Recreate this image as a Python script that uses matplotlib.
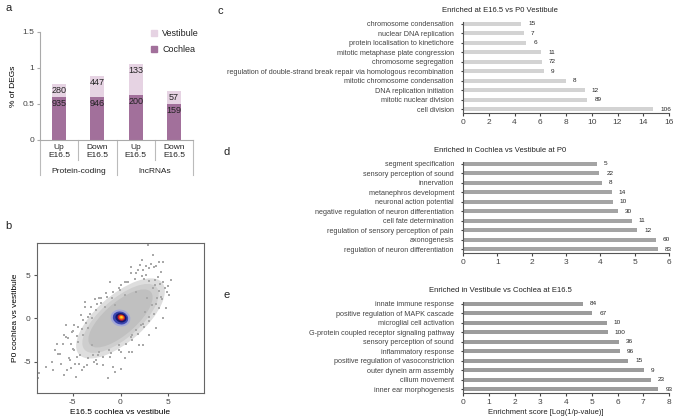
import numpy as np
import matplotlib
matplotlib.use('Agg')
import matplotlib.pyplot as plt
from matplotlib.patches import Ellipse, Patch

plt.rcParams['font.family'] = ['Liberation Sans', 'DejaVu Sans']
plt.rcParams['text.color'] = '#222222'
plt.rcParams['xtick.color'] = '#444444'
plt.rcParams['ytick.color'] = '#444444'
plt.rcParams['axes.unicode_minus'] = False

W, H = 675, 418

# ---- panel a: % of DEGs
deg_groups = ['Protein-coding', 'lncRNAs']
deg_labels = ['Up\nE16.5', 'Down\nE16.5', 'Up\nE16.5', 'Down\nE16.5']
cochlea_pct = [0.60, 0.60, 0.63, 0.50]
vestibule_pct = [0.18, 0.29, 0.42, 0.18]
cochlea_n = [935, 946, 200, 159]
vestibule_n = [280, 447, 133, 57]

# ---- panel b: fold changes (hand-read sparse points + dense cloud outline)
scatter_x = [2.85, 3.98, 3.5, 3.0, 2.3, 1.6, 2.7, 3.9, 4.4, 4.2, 0.5, -0.2, -1.1, -2.0, -2.5,
             -3.75, -4.1, -4.8, -5.7, -5.9, -6.6, -6.8, -6.3, -7.1, -7.8, -8.5, -8.6, -7.0, -5.9,
             -5.2, -4.7, -4.0, -3.5, -2.8, -1.8, -0.75, -0.6, -1.3, 0.5, 1.2, 2.3, 3.0, 3.7, 4.4,
             4.75, 5.1, 4.6, 3.4, 2.2, 1.1, -3.0, -3.4, -3.9, -4.4, -5.0, -3.0, -2.3, -1.25, -0.2,
             1.2, 2.1, 2.6, 2.8, 1.6, 0.5, -0.9, -1.6, -0.6, 3.4, 3.8, 3.3, -6.2, -5.6, -5.3, -4.6,
             -4.3, -3.8, -2.5, 0.0, -2.2, -5.1, -5.65, -6.0, -4.4, -3.9, -3.4, -3.1, -2.2, -1.5,
             -0.1, 0.6, 1.1, 1.8, 2.7, 3.2, 3.7, 4.4, 4.9, 3.7, 4.2, 3.0, 2.3, 1.6, 1.1, 0.07, -1.1,
             -2.9, -6.5, 4.1, 3.6, 2.5, -4.5, -5.4,
             -4.5, -4.0, -3.6, -3.2, -2.6, -2.0, -1.4, -0.8, 0.0, 0.8, 1.5, 2.2, 3.0, 3.6, 4.0,
             4.3, 4.0, 3.5, 3.0, 2.4, 1.8, 1.2, 0.6, -0.2, -1.0, -1.8, -2.6, -3.4, -4.2, -4.8,
             -5.2, -5.5, -4.9, -2.7, 1.9, 0.9, -3.7, 4.8, 5.3, 2.0]
scatter_y = [8.46, 6.54, 5.96, 5.8, 5.6, 5.2, 5.0, 4.8, 4.2, 5.4, 4.2, 3.5, 4.2, 2.3, 1.7,
             1.3, 0.4, -0.77, -0.77, -1.93, -2.9, -3.66, -4.05, -5.0, -5.6, -6.35, -6.9, -5.97, -6.5,
             -5.7, -5.2, -5.97, -5.4, -5.0, -5.4, -5.6, -6.2, -6.9, -4.6, -3.85, -3.08, -1.93, -1.16, 0.0,
             1.16, 2.7, 3.5, 7.3, 6.7, 5.96, 0.0, -1.16, -1.93, -2.7, -3.47, -3.08, -4.24, -3.66, -3.08,
             -1.93, -0.77, 0.77, 2.3, 3.08, 2.7, 2.3, 1.35, 1.5, 3.5, 2.3, 1.6, -5.2, -5.9, -4.8, -6.7,
             -5.2, -5.6, -5.2, -5.8, -3.9, -1.55, -2.1, -2.9, -0.97, -0.2, 0.2, 1.3, 2.3, 2.9,
             3.3, 4.2, 5.2, 5.6, 6.1, 6.3, 6.1, 6.5, 3.7, 1.7, 2.5, 0.2, -0.6, -1.35, -2.1, -3.85, -4.4,
             -4.2, -4.05, 4.0, 4.4, 4.6, -4.4, -4.6,
             -2.0, -1.2, -0.5, 0.5, 1.0, 1.8, 2.5, 3.0, 3.8, 4.2, 4.6, 4.9, 4.3, 3.9, 3.2,
             2.2, 1.2, 0.5, -0.3, -1.0, -1.8, -2.5, -3.0, -3.6, -4.0, -4.4, -4.8, -4.6, -4.2, -3.6,
             -3.0, -2.3, -1.4, 2.2, -3.1, -3.9, 1.9, 3.0, 4.4, 6.2]
cloud_w = [12.0, 10.4, 8.8]
cloud_h = [5.2, 4.3, 3.5]
cloud_colors = ['#dedede', '#cecece', '#c0c0c0']
cloud_angle = 45
core_xy = [(0.0, 0.05), (0.0, 0.05), (0.05, 0.08), (0.08, 0.1), (0.1, 0.12), (0.1, 0.15)]
core_w = [1.9, 1.45, 1.05, 0.7, 0.48, 0.26]
core_h = [2.1, 1.65, 1.2, 0.8, 0.52, 0.28]
core_colors = ['#a3a8d8', '#3a46b0', '#15176a', '#c81e2a', '#f4781c', '#ffd51e']

# ---- panels c-e: GO enrichment
c_terms = ['chromosome condensation', 'nuclear DNA replication', 'protein localisation to kinetichore',
           'mitotic metaphase plate congression', 'chromosome segregation',
           'regulation of double-strand break repair via homologous recombination',
           'mitotic chromosome condensation', 'DNA replication initiation', 'mitotic nuclear division',
           'cell division']
c_scores = [4.53, 4.74, 4.92, 6.09, 6.14, 6.30, 7.98, 9.46, 9.66, 14.77]
c_counts = [15, 7, 6, 11, 72, 9, 8, 12, 89, 106]

d_terms = ['segment specification', 'sensory perception of sound', 'innervation',
           'metanephros development', 'neuronal action potential',
           'negative regulation of neuron differentiation', 'cell fate determination',
           'regulation of sensory perception of pain', 'axonogenesis',
           'regulation of neuron differentiation']
d_scores = [3.91, 3.97, 4.04, 4.34, 4.36, 4.50, 4.91, 5.08, 5.62, 5.67]
d_counts = [5, 22, 8, 14, 10, 30, 11, 12, 60, 83]

e_terms = ['innate immune response', 'positive regulation of MAPK cascade', 'microglial cell activation',
           'G-protein coupled receptor signaling pathway', 'sensory perception of sound',
           'inflammatory response', 'positive regulation of vasoconstriction',
           'outer dynein arm assembly', 'cilium movement', 'inner ear morphogenesis']
e_scores = [4.66, 5.02, 5.59, 5.63, 6.06, 6.08, 6.41, 7.04, 7.31, 7.59]
e_counts = [84, 67, 10, 100, 36, 96, 15, 9, 23, 93]

fig = plt.figure(figsize=(W / 100, H / 100), dpi=100)


def px_axes(l, t, r, b):
    return fig.add_axes([l / W, 1 - b / H, (r - l) / W, (b - t) / H])


def ftext(x, y, s, **kw):
    fig.text(x / W, 1 - y / H, s, **kw)


# panel a
coch_col = '#a2709b'
vest_col = '#e6d3e3'
ax = px_axes(40, 32, 193, 140)
xpos = np.arange(len(deg_labels)) + 0.5
ax.bar(xpos, cochlea_pct, 0.37, color=coch_col)
ax.bar(xpos, vestibule_pct, 0.37, bottom=cochlea_pct, color=vest_col)
for i in range(len(xpos)):
    top_c = cochlea_pct[i]
    top_v = cochlea_pct[i] + vestibule_pct[i]
    ax.annotate(str(cochlea_n[i]), (xpos[i], top_c), xytext=(0, -1.5), textcoords='offset points',
                ha='center', va='top', fontsize=6.5)
    ax.annotate(str(vestibule_n[i]), (xpos[i], top_v), xytext=(0, -1.5), textcoords='offset points',
                ha='center', va='top', fontsize=6.5)
    ax.text(xpos[i], -0.05, deg_labels[i], ha='center', va='top', fontsize=6, linespacing=1.25)
ax.set_xlim(0, 4)
ax.set_ylim(0, 1.5)
ax.set_xticks([])
ax.set_yticks([0, 0.5, 1, 1.5])
ax.set_yticklabels(['0', '0.5', '1', '1.5'])
ax.tick_params(axis='y', length=2, labelsize=6, color='#aaaaaa', pad=2)
for s in ['top', 'right']:
    ax.spines[s].set_visible(False)
for s in ['left', 'bottom']:
    ax.spines[s].set_color('#aaaaaa')
    ax.spines[s].set_linewidth(0.8)
for xs in range(5):
    depth = 0.49 if xs % 2 == 0 else 0.28
    ax.plot([xs, xs], [0, -depth], color='#bbbbbb', lw=0.8, clip_on=False)
for g, name in enumerate(deg_groups):
    ax.text(2 * g + 1, -0.44, name, ha='center', va='center', fontsize=6)
ax.set_ylabel('% of DEGs', fontsize=6, labelpad=4)
handles = [Patch(color=vest_col), Patch(color=coch_col)]
ax.legend(handles, ['Vestibule', 'Cochlea'], loc='upper left', bbox_to_anchor=(0.7, 1.06),
          frameon=False, fontsize=6.5, handlelength=0.7, handleheight=0.7, handletextpad=0.6,
          labelspacing=0.75, borderaxespad=0)

# panel b
ax = px_axes(37, 243, 204, 393)
for w, h, c in zip(cloud_w, cloud_h, cloud_colors):
    ax.add_patch(Ellipse((0, 0), w, h, angle=cloud_angle, color=c, lw=0))
ax.scatter(scatter_x, scatter_y, s=1.2, color='#a9a9a9', marker='s', lw=0)
for xy, w, h, c in zip(core_xy, core_w, core_h, core_colors):
    ax.add_patch(Ellipse(xy, w, h, angle=60, color=c, lw=0))
ax.set_xlim(-8.7, 8.7)
ax.set_ylim(-8.6, 8.7)
ax.set_xticks([-5, 0, 5])
ax.set_yticks([-5, 0, 5])
ax.tick_params(length=2.5, labelsize=6, color='#555555', pad=2)
for s in ax.spines.values():
    s.set_color('#666666')
    s.set_linewidth(0.8)
ax.set_xlabel('E16.5 cochlea vs vestibule', fontsize=6, labelpad=2)
ax.set_ylabel('P0 cochlea vs vestibule', fontsize=6, labelpad=3)


def go_panel(top, terms, scores, counts, xmax, step, color, title):
    a = px_axes(463, top, 669, top + 91.5)
    n = len(terms)
    rows = np.arange(n)[::-1]
    a.barh(rows, scores, 0.42, color=color)
    for r, v, k in zip(rows, scores, counts):
        a.annotate(str(k), (v, r), xytext=(5, 0), textcoords='offset points',
                   ha='left', va='center', fontsize=4.6)
    a.set_yticks(rows)
    a.set_yticklabels(terms, fontsize=5.2)
    a.set_xlim(0, xmax)
    a.set_ylim(-0.42, n - 0.75)
    a.set_xticks(np.arange(0, xmax + 0.01, step))
    a.tick_params(axis='x', length=2.5, labelsize=6, pad=2)
    a.tick_params(axis='y', length=1.5, pad=5)
    for s in ['top', 'right']:
        a.spines[s].set_visible(False)
    for s in ['left', 'bottom']:
        a.spines[s].set_color('#555555')
        a.spines[s].set_linewidth(0.8)
    ftext(500, top - 11, title, ha='center', va='center', fontsize=5.5)
    return a


go_panel(21.5, c_terms, c_scores, c_counts, 16, 2, '#d3d3d3', 'Enriched at E16.5 vs P0 Vestibule')
go_panel(161.5, d_terms, d_scores, d_counts, 6, 1, '#a4a4a4', 'Enriched in Cochlea vs Vestibule at P0')
go_panel(301.5, e_terms, e_scores, e_counts, 8, 1, '#9c9c9c', 'Enriched in Vestibule vs Cochlea at E16.5')
ftext(546, 412, 'Enrichment score [Log(1/p-value)]', ha='center', va='center', fontsize=5.5)

# panel letters
ftext(5, 8, 'a', fontsize=8, va='center')
ftext(5, 226, 'b', fontsize=8, va='center')
ftext(218, 11, 'c', fontsize=8, va='center')
ftext(223, 152, 'd', fontsize=8, va='center')
ftext(223, 295, 'e', fontsize=8, va='center')

fig.savefig('out.png', dpi=100)
